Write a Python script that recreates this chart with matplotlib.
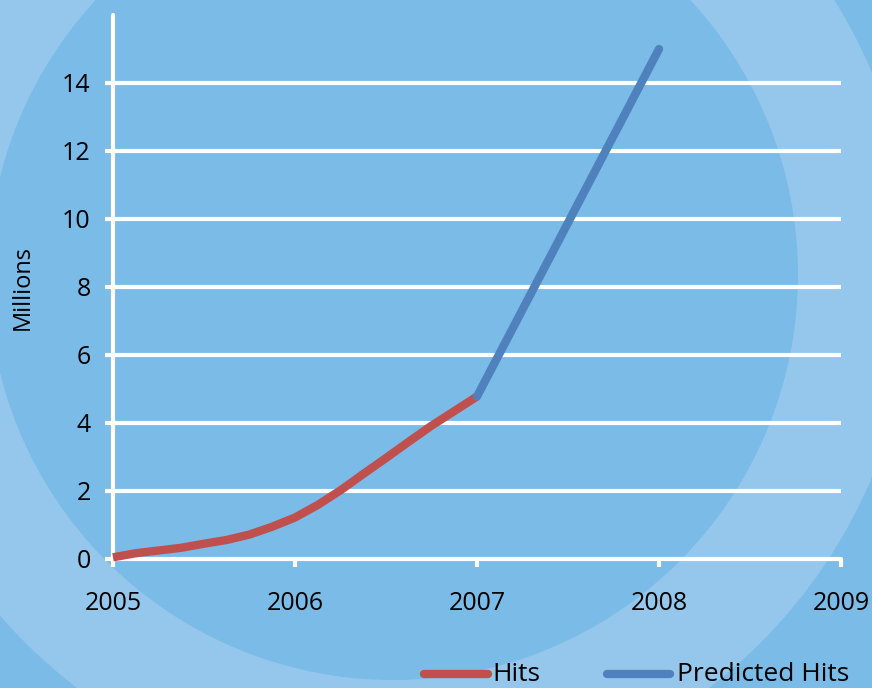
import matplotlib
matplotlib.use("Agg")
import matplotlib.pyplot as plt
from matplotlib.patches import Circle
from matplotlib.lines import Line2D

plt.rcParams['font.family'] = ['Open Sans', 'DejaVu Sans']

# data
hits_years = [2005, 2005.125, 2005.25, 2005.375, 2005.5, 2005.625, 2005.75, 2005.875,
              2006, 2006.125, 2006.25, 2006.375, 2006.5, 2006.625, 2006.75, 2006.875, 2007]
hits_vals = [0.05, 0.17, 0.25, 0.33, 0.45, 0.56, 0.72, 0.95,
             1.22, 1.59, 2.02, 2.5, 2.97, 3.45, 3.92, 4.35, 4.78]
pred_years = [2007, 2008]
pred_vals = [4.78, 15.0]
x_ticks = [2005, 2006, 2007, 2008, 2009]
y_ticks = [0, 2, 4, 6, 8, 10, 12, 14]

DARK_BG = "#7abbe7"
LIGHT_BG = "#95c7ec"
RED = "#c0504d"
BLUE = "#4f81bd"

fig = plt.figure(figsize=(8.72, 6.88), dpi=100, facecolor=DARK_BG)

# concentric background rings (inches, so they stay round)
for r, c in ((5.2, LIGHT_BG), (4.05, DARK_BG)):
    fig.patches.append(Circle((3.93, 4.13), r, transform=fig.dpi_scale_trans,
                              facecolor=c, edgecolor="none", zorder=-10))

ax = fig.add_axes([113 / 872, 1 - 559 / 688, (841 - 113) / 872, 544 / 688])
ax.set_facecolor("none")
ax.set_xlim(2005, 2009)
ax.set_ylim(0, 16)
ax.set_xticks(x_ticks)
ax.set_yticks(y_ticks)
ax.set_xticklabels([str(t) for t in x_ticks])

for y in y_ticks[1:]:
    ax.axhline(y, color="white", lw=3, solid_capstyle="round", zorder=1)

for s in ("top", "right"):
    ax.spines[s].set_visible(False)
for s in ("left", "bottom"):
    ax.spines[s].set_color("white")
    ax.spines[s].set_linewidth(3)
    ax.spines[s].set_capstyle("round")

ax.tick_params(axis="both", colors="white", width=3, length=6, labelcolor="black",
               labelsize=18)
ax.tick_params(axis="y", pad=10)
ax.tick_params(axis="x", pad=17)
ax.set_ylabel("Millions", fontsize=17)
ax.yaxis.set_label_coords(-0.108, 0.5)

ax.plot(hits_years, hits_vals, color=RED, lw=6, solid_capstyle="butt",
        solid_joinstyle="round", zorder=3, clip_on=False)
ax.plot(pred_years, pred_vals, color=BLUE, lw=6, solid_capstyle="round",
        solid_joinstyle="round", zorder=3, clip_on=False)

# legend drawn by hand at the bottom
fig.add_artist(Line2D([424 / 872, 488 / 872], [1 - 674 / 688] * 2, color=RED, lw=6,
                      solid_capstyle="round"))
fig.text(492 / 872, 1 - 681 / 688, "Hits", fontsize=19, va="baseline", ha="left")
fig.add_artist(Line2D([607 / 872, 670 / 872], [1 - 674 / 688] * 2, color=BLUE, lw=6,
                      solid_capstyle="round"))
fig.text(677 / 872, 1 - 681 / 688, "Predicted Hits", fontsize=19, va="baseline", ha="left")

fig.savefig("out.png", dpi=100, facecolor=fig.get_facecolor())
